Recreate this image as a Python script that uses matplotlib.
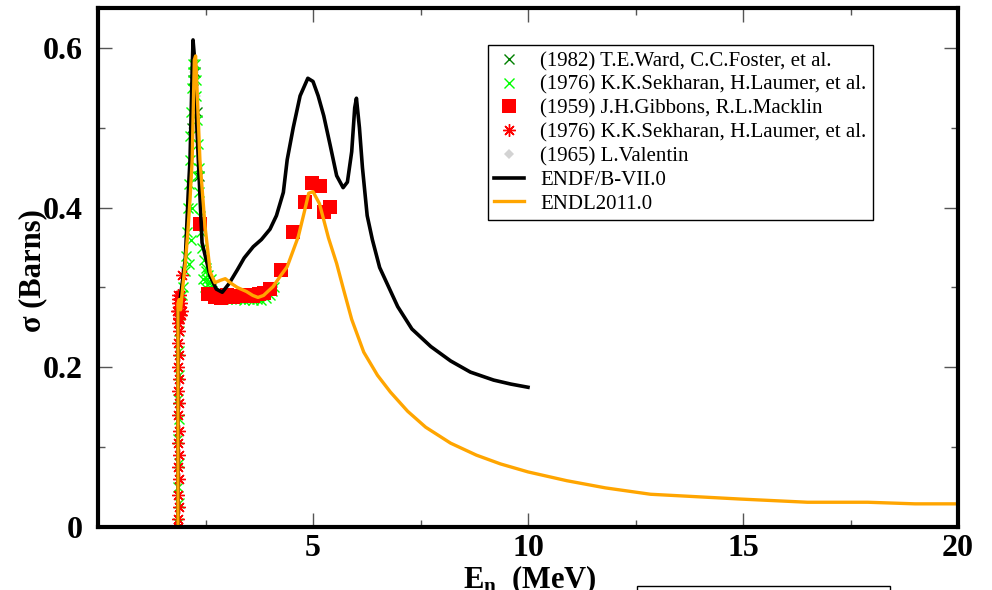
import matplotlib
matplotlib.use("Agg")
import matplotlib.pyplot as plt
from matplotlib.patches import Rectangle
from matplotlib.ticker import MultipleLocator

plt.rcParams['font.family'] = ['Liberation Serif', 'DejaVu Serif']
plt.rcParams['mathtext.fontset'] = 'custom'
plt.rcParams['mathtext.bf'] = 'Liberation Serif:bold'
plt.rcParams['mathtext.rm'] = 'Liberation Serif:bold'
plt.rcParams['mathtext.default'] = 'bf'

# ---- ENDF/B-VII.0 evaluation
endf_e = [1.86, 1.86, 1.91, 2.03, 2.10, 2.14, 2.19, 2.21, 2.24, 2.30, 2.42, 2.61, 2.75,
          2.89, 3.05, 3.24, 3.40, 3.61, 3.80, 4.00, 4.15, 4.31, 4.40, 4.54, 4.70, 4.88,
          5.00, 5.12, 5.25, 5.40, 5.55, 5.70, 5.80, 5.90, 5.97, 6.01, 6.08, 6.15, 6.26,
          6.38, 6.55, 6.97, 7.30, 7.74, 8.20, 8.66, 9.20, 9.60, 10.0]
endf_s = [0.0, 0.27, 0.285, 0.335, 0.42, 0.46, 0.57, 0.61, 0.59, 0.50, 0.356, 0.314, 0.298,
          0.294, 0.305, 0.322, 0.337, 0.351, 0.360, 0.373, 0.390, 0.419, 0.46, 0.50, 0.54, 0.562,
          0.558, 0.540, 0.515, 0.478, 0.440, 0.425, 0.432, 0.470, 0.525, 0.537, 0.50, 0.45, 0.39,
          0.36, 0.325, 0.276, 0.248, 0.226, 0.208, 0.194, 0.184, 0.179, 0.175]

# ---- ENDL2011.0 evaluation
endl_e = [1.86, 1.86, 1.89, 1.92, 1.97, 2.03, 2.09, 2.14, 2.19, 2.24, 2.27, 2.31, 2.37,
          2.49, 2.61, 2.72, 2.85, 2.96, 3.10, 3.24, 3.45, 3.60, 3.72, 3.85, 4.07, 4.25,
          4.40, 4.53, 4.66, 4.80, 4.90, 5.00, 5.15, 5.36, 5.55, 5.71, 5.90, 6.18, 6.50,
          6.80, 7.20, 7.62, 8.20, 8.80, 9.36, 10.0, 10.9, 11.8, 12.85, 13.9, 14.94,
          16.5, 17.9, 19.0, 20.0]
endl_s = [0.0, 0.28, 0.285, 0.272, 0.30, 0.33, 0.37, 0.41, 0.46, 0.585, 0.59, 0.54, 0.46,
          0.376, 0.319, 0.306, 0.309, 0.311, 0.305, 0.300, 0.295, 0.290, 0.2875, 0.290, 0.301, 0.315,
          0.326, 0.345, 0.364, 0.395, 0.418, 0.420, 0.405, 0.362, 0.330, 0.2975, 0.260, 0.219, 0.190,
          0.169, 0.145, 0.125, 0.105, 0.090, 0.079, 0.069, 0.058, 0.049, 0.041, 0.038, 0.035,
          0.031, 0.031, 0.029, 0.029]

# ---- (1982) T.E.Ward, C.C.Foster
ward_e = [2.18, 2.22, 2.26, 2.30, 2.35]
ward_s = [0.50, 0.56, 0.57, 0.52, 0.44]

# ---- (1976) K.K.Sekharan, H.Laumer (green)
sek1_e = [1.87, 1.88, 1.87, 1.88, 1.87, 1.88, 1.87, 1.88, 1.89, 1.88, 1.89, 1.90,
          1.95, 1.98, 2.02, 2.05, 2.08, 2.10, 2.12, 2.14, 2.15, 2.17, 2.18, 2.20, 2.22,
          2.25, 2.27, 2.29, 2.30, 2.32, 2.34, 2.36, 2.38, 2.40, 2.43, 2.46, 2.50, 2.53,
          2.57, 2.60, 2.65, 2.70, 2.80, 2.90, 3.00, 3.10, 3.20, 3.30, 3.40, 3.50, 3.60,
          3.70, 3.80, 3.90, 4.00, 4.05, 4.10,
          2.45, 2.52, 2.48, 2.56, 2.62, 2.12, 2.16, 2.19, 2.31, 2.35]
sek1_s = [0.005, 0.03, 0.05, 0.08, 0.11, 0.135, 0.16, 0.19, 0.22, 0.245, 0.265, 0.28,
          0.29, 0.30, 0.32, 0.34, 0.37, 0.40, 0.43, 0.46, 0.49, 0.52, 0.55, 0.57, 0.58,
          0.58, 0.56, 0.54, 0.51, 0.48, 0.45, 0.42, 0.39, 0.37, 0.35, 0.335, 0.32, 0.31,
          0.305, 0.30, 0.295, 0.29, 0.288, 0.286, 0.285, 0.287, 0.286, 0.285, 0.284, 0.285, 0.284,
          0.285, 0.284, 0.287, 0.291, 0.295, 0.30,
          0.31, 0.325, 0.30, 0.315, 0.31, 0.33, 0.36, 0.40, 0.44, 0.38]

# ---- (1959) J.H.Gibbons, R.L.Macklin
gib_e = [2.38, 2.56, 2.72, 2.87, 3.00, 3.15, 3.30, 3.45, 3.60, 3.75, 3.87, 4.00,
         4.25, 4.54, 4.82, 4.98, 5.17, 5.26, 5.40]
gib_s = [0.379, 0.292, 0.288, 0.287, 0.290, 0.288, 0.289, 0.291, 0.289, 0.292, 0.293, 0.298,
         0.322, 0.369, 0.407, 0.431, 0.427, 0.395, 0.401]

# ---- (1976) K.K.Sekharan, H.Laumer (red)
sek2_e = [1.87, 1.87, 1.88, 1.87, 1.88, 1.87, 1.88, 1.87, 1.88, 1.87, 1.88, 1.87,
          1.88, 1.87, 1.88, 1.87, 1.88, 1.87, 1.88, 1.87, 1.88, 1.87, 1.88, 1.87,
          1.95, 1.84, 1.90, 1.93, 1.88, 1.92, 1.86, 1.95, 1.90]
sek2_s = [0.0, 0.01, 0.025, 0.04, 0.06, 0.075, 0.09, 0.105, 0.12, 0.14, 0.155, 0.17,
          0.185, 0.20, 0.215, 0.23, 0.245, 0.255, 0.262, 0.27, 0.275, 0.28, 0.285, 0.29,
          0.316, 0.27, 0.275, 0.28, 0.26, 0.265, 0.285, 0.27, 0.29]

# ---- (1965) L.Valentin
val_e = [2.20, 2.24, 2.28]
val_s = [0.50, 0.57, 0.54]


fig = plt.figure(figsize=(9.92, 5.90), dpi=100)
ax = fig.add_axes([98 / 992, 1 - 527 / 590, 860 / 992, 519 / 590])

ax.plot(ward_e, ward_s, 'x', color='#008000', ms=7, mew=1, label='(1982) T.E.Ward, C.C.Foster, et al.')
ax.plot(sek1_e, sek1_s, 'x', color='#00FF00', ms=7, mew=1, label='(1976) K.K.Sekharan, H.Laumer, et al.')
ax.plot(gib_e, gib_s, 's', color='#FF0000', ms=10, mew=0, label='(1959) J.H.Gibbons, R.L.Macklin')
ax.plot(sek2_e, sek2_s, linestyle='none', marker=(8, 2, 0), color='#FF0000', ms=9, mew=1,
        label='(1976) K.K.Sekharan, H.Laumer, et al.')
ax.plot(val_e, val_s, 'D', color='#D3D3D3', ms=5, mew=0, label='(1965) L.Valentin')
ax.plot(endf_e, endf_s, '-', color='black', lw=2.6, label='ENDF/B-VII.0')
ax.plot(endl_e, endl_s, '-', color='#FFA500', lw=2.4, label='ENDL2011.0')

ax.set_xlim(0, 20)
ax.set_ylim(0, 0.65)
ax.set_xticks([5, 10, 15, 20])
ax.xaxis.set_minor_locator(MultipleLocator(2.5))
ax.set_yticks([0, 0.2, 0.4, 0.6])
ax.set_yticklabels(['0', '0.2', '0.4', '0.6'])
ax.yaxis.set_minor_locator(MultipleLocator(0.1))

ax.tick_params(which='both', direction='in', top=True, right=True, color='#555555', width=1)
ax.tick_params(which='major', length=10)
ax.tick_params(which='minor', length=5)
ax.tick_params(axis='y', pad=11)
ax.tick_params(axis='x', pad=5)
for lab in ax.get_xticklabels() + ax.get_yticklabels():
    lab.set_fontsize(23)
    lab.set_fontweight('bold')
for sp in ax.spines.values():
    sp.set_linewidth(3)

fig.text(33 / 992, 1 - 271 / 590, u'\u03c3 (Barns)', rotation=90, ha='center', va='center',
         fontsize=22, fontweight='bold')
fig.text(530 / 992, 0.003, r'E$_n$  (MeV)', ha='center', va='baseline',
         fontsize=22, fontweight='bold')

leg = ax.legend(loc='upper left', bbox_to_anchor=(0.453, 0.929), fontsize=15, numpoints=1,
                frameon=True, fancybox=False, shadow=False, framealpha=1, edgecolor='black',
                handlelength=1.44, handletextpad=0.77, labelspacing=0.2, borderpad=0.32,
                borderaxespad=0)
leg.get_frame().set_linewidth(1)

# empty box at the bottom edge
box = Rectangle((637 / 992, -0.1), 253 / 992, 0.1 + 4 / 590, transform=fig.transFigure,
                fill=False, edgecolor='black', linewidth=1, clip_on=False)
fig.patches.append(box)

plt.savefig('out.png', dpi=100)
